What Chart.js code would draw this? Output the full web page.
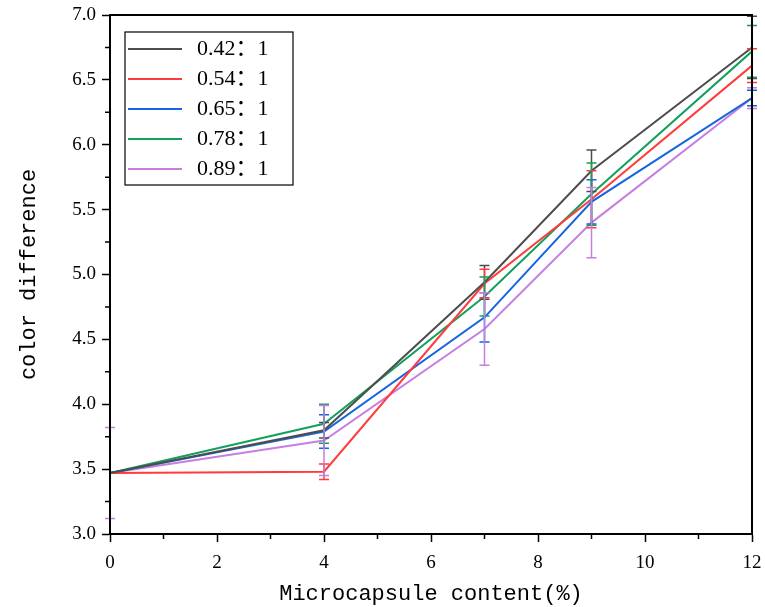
<!DOCTYPE html>
<html>
<head>
<meta charset="utf-8">
<script src="https://cdn.jsdelivr.net/npm/chart.js@4"></script>
<style>
  html, body { margin: 0; padding: 0; background: #fff; }
  #wrap { width: 765px; height: 607px; }
</style>
</head>
<body>
<div id="wrap"><canvas id="cd"></canvas></div>
<script>
// microcapsule content (%) on x
const contents = [0, 4, 7, 9, 12];
const ratioLabels = ['0.42：1', '0.54：1', '0.65：1', '0.78：1', '0.89：1'];
const colors = ['#4d4d4d', '#ff3b3b', '#1565e0', '#12a05a', '#c57fe0'];

// color difference per ratio
const r042 = [3.47, 3.80, 4.94, 5.80, 6.75];
const r054 = [3.47, 3.48, 4.93, 5.58, 6.61];
const r065 = [3.47, 3.79, 4.67, 5.56, 6.36];
const r078 = [3.47, 3.85, 4.83, 5.62, 6.72];
const r089 = [3.47, 3.72, 4.58, 5.40, 6.36];

// error bar half widths
const e042 = [0, 0.06, 0.13, 0.16, 0.24];
const e054 = [0, 0.06, 0.11, 0.22, 0.13];
const e065 = [0, 0.13, 0.19, 0.17, 0.06];
const e078 = [0, 0.15, 0.15, 0.24, 0.20];
const e089 = [0.35, 0.27, 0.28, 0.27, 0.08];

const series = [r042, r054, r065, r078, r089];
const errors = [e042, e054, e065, e078, e089];

const tickFont = { family: 'Liberation Serif', size: 19 };
const titleFont = { family: 'Liberation Mono', size: 22 };

const datasets = series.map((vals, i) => ({
  label: ratioLabels[i],
  data: contents.map((x, j) => ({ x: x, y: vals[j] })),
  borderColor: colors[i],
  backgroundColor: colors[i],
  borderWidth: 2,
  pointRadius: 0,
  tension: 0,
  errs: errors[i]
}));

// error bars, minor ticks, frame and the inset legend
const extras = {
  id: 'extras',
  afterDatasetsDraw(chart) {
    const { ctx, scales: { x, y } } = chart;
    ctx.save();
    chart.data.datasets.forEach(ds => {
      ctx.strokeStyle = ds.borderColor;
      ctx.lineWidth = 1.5;
      ds.data.forEach((p, j) => {
        const e = ds.errs[j];
        if (!e) return;
        const px = x.getPixelForValue(p.x);
        const top = y.getPixelForValue(p.y + e);
        const bot = y.getPixelForValue(p.y - e);
        ctx.beginPath();
        ctx.moveTo(px, top); ctx.lineTo(px, bot);
        ctx.moveTo(px - 5, top); ctx.lineTo(px + 5, top);
        ctx.moveTo(px - 5, bot); ctx.lineTo(px + 5, bot);
        ctx.stroke();
      });
    });
    ctx.restore();
  },
  afterDraw(chart) {
    const { ctx, chartArea: a, scales: { x, y } } = chart;
    ctx.save();
    ctx.strokeStyle = '#000';
    ctx.lineWidth = 2;
    ctx.strokeRect(a.left, a.top, a.right - a.left, a.bottom - a.top);

    // minor ticks
    ctx.lineWidth = 1.5;
    ctx.beginPath();
    for (let v = 1; v < 12; v += 2) {
      const px = x.getPixelForValue(v);
      ctx.moveTo(px, a.bottom); ctx.lineTo(px, a.bottom + 5);
    }
    for (let v = 3.25; v < 7; v += 0.5) {
      const py = y.getPixelForValue(v);
      ctx.moveTo(a.left, py); ctx.lineTo(a.left - 5, py);
    }
    ctx.stroke();

    // legend box
    const lx = a.left + 15, ly = a.top + 17, lw = 168, lh = 153;
    ctx.fillStyle = '#fff';
    ctx.fillRect(lx, ly, lw, lh);
    ctx.strokeStyle = '#000';
    ctx.lineWidth = 1.2;
    ctx.strokeRect(lx, ly, lw, lh);
    ctx.font = '22px "Liberation Serif", "Noto Sans CJK SC"';
    ctx.textBaseline = 'middle';
    chart.data.datasets.forEach((ds, i) => {
      const cy = ly + 17 + i * 30;
      ctx.strokeStyle = ds.borderColor;
      ctx.lineWidth = 2;
      ctx.beginPath();
      ctx.moveTo(lx + 3, cy); ctx.lineTo(lx + 57, cy);
      ctx.stroke();
      ctx.fillStyle = '#000';
      ctx.fillText(ds.label, lx + 72, cy);
    });
    ctx.restore();
  }
};

new Chart(document.getElementById('cd'), {
  type: 'line',
  data: { datasets: datasets },
  options: {
    responsive: true,
    maintainAspectRatio: false,
    animation: false,
    layout: { padding: { top: 15, right: 13, left: 0, bottom: 0 } },
    plugins: { legend: { display: false }, tooltip: { enabled: false } },
    scales: {
      x: {
        type: 'linear',
        min: 0, max: 12,
        ticks: { stepSize: 2, color: '#000', font: tickFont, padding: 10, maxRotation: 0 },
        grid: { drawOnChartArea: false, tickLength: 8, tickColor: '#000', tickWidth: 1.5 },
        border: { color: '#000', width: 2 },
        title: { display: true, text: 'Microcapsule content(%)', color: '#000', font: titleFont, padding: { top: 4, bottom: 0 } },
        afterFit(s) { s.height = 73; s.paddingRight = 0; s.paddingLeft = 0; }
      },
      y: {
        min: 3, max: 7,
        ticks: { stepSize: 0.5, color: '#000', font: tickFont, padding: 6, callback: v => v.toFixed(1) },
        grid: { drawOnChartArea: false, tickLength: 8, tickColor: '#000', tickWidth: 1.5 },
        border: { color: '#000', width: 2 },
        title: { display: true, text: 'color difference', color: '#000', font: titleFont, padding: { top: 16, bottom: 10 } },
        afterFit(s) { s.width = 110; s.paddingTop = 0; s.paddingBottom = 0; }
      }
    }
  },
  plugins: [extras]
});
</script>
</body>
</html>
